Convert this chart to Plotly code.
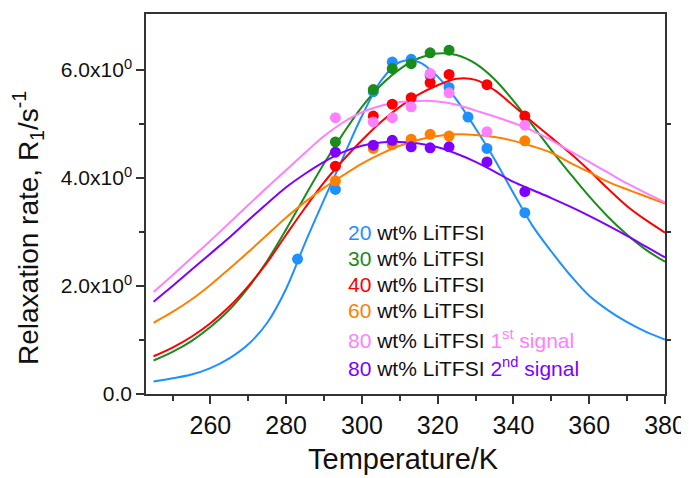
import plotly.graph_objects as go

# ---------------- data ----------------
# measured points: temperature (K) and relaxation rate R1 (s^-1)
t_20 = [283, 293, 303, 308, 313, 318, 323, 328, 333, 343]
r_20 = [2.50, 3.79, 5.60, 6.15, 6.20, 5.90, 5.68, 5.13, 4.55, 3.36]
t_30 = [293, 303, 308, 313, 318, 323]
r_30 = [4.67, 5.64, 6.03, 6.12, 6.32, 6.37]
t_40 = [293, 303, 308, 313, 318, 323, 333, 343]
r_40 = [4.22, 5.15, 5.37, 5.49, 5.77, 5.92, 5.73, 5.15]
t_60 = [293, 303, 308, 313, 318, 323, 343]
r_60 = [3.95, 4.55, 4.62, 4.72, 4.81, 4.78, 4.69]
t_80a = [293, 303, 308, 313, 318, 323, 333, 343]
r_80a = [5.12, 5.04, 5.12, 5.32, 5.94, 5.58, 4.86, 4.98]
t_80b = [293, 303, 308, 313, 318, 323, 333, 343]
r_80b = [4.48, 4.61, 4.70, 4.58, 4.56, 4.58, 4.30, 3.75]

# fitted curves, every 5 K from 245 K to 380 K
curve_t = [245, 250, 255, 260, 265, 270, 275, 280, 285, 290, 295, 300, 305, 310,
           315, 320, 325, 330, 335, 340, 345, 350, 355, 360, 365, 370, 375, 380]
curve_20 = [0.23, 0.29, 0.36, 0.48, 0.66, 0.92, 1.32, 1.95, 2.80, 3.60, 4.38, 5.15, 5.80, 6.15,
            6.15, 5.88, 5.45, 4.92, 4.35, 3.72, 3.12, 2.64, 2.20, 1.82, 1.55, 1.33, 1.15, 1.01]
curve_30 = [0.62, 0.78, 0.98, 1.24, 1.56, 1.97, 2.47, 3.05, 3.67, 4.27, 4.82, 5.32, 5.72, 6.02,
            6.22, 6.31, 6.28, 6.12, 5.83, 5.43, 4.98, 4.52, 4.08, 3.66, 3.28, 2.95, 2.67, 2.45]
curve_40 = [0.70, 0.86, 1.06, 1.31, 1.62, 2.00, 2.44, 2.95, 3.45, 3.92, 4.33, 4.70, 5.04, 5.32,
            5.55, 5.72, 5.84, 5.82, 5.63, 5.34, 5.04, 4.75, 4.46, 4.14, 3.80, 3.48, 3.22, 2.99]
curve_60 = [1.32, 1.52, 1.75, 2.02, 2.32, 2.63, 2.95, 3.27, 3.56, 3.82, 4.05, 4.27, 4.45, 4.60,
            4.71, 4.78, 4.81, 4.80, 4.76, 4.69, 4.59, 4.47, 4.28, 4.11, 3.93, 3.79, 3.66, 3.53]
curve_80a = [1.89, 2.20, 2.52, 2.84, 3.17, 3.50, 3.83, 4.15, 4.47, 4.78, 5.03, 5.22, 5.34, 5.41,
             5.43, 5.42, 5.36, 5.25, 5.14, 5.02, 4.88, 4.70, 4.50, 4.30, 4.10, 3.90, 3.72, 3.55]
curve_80b = [1.71, 2.00, 2.30, 2.60, 2.90, 3.22, 3.53, 3.83, 4.08, 4.30, 4.48, 4.60, 4.66, 4.67,
             4.64, 4.57, 4.45, 4.30, 4.12, 3.93, 3.78, 3.63, 3.47, 3.30, 3.12, 2.93, 2.73, 2.53]

labels = ["20", "30", "40", "60", "80", "80"]
suffix = ["", "", "", "", "1<sup>st</sup> signal", "2<sup>nd</sup> signal"]
colors = ["#1E90FF", "#1A8C1A", "#FF0000", "#FF8000", "#FF80FF", "#8000FF"]

y_tick_vals = [0, 2, 4, 6]
y_tick_text = ["0.0", "2.0x10<sup>0</sup>", "4.0x10<sup>0</sup>", "6.0x10<sup>0</sup>"]

# ---------------- figure ----------------
pts = [(t_20, r_20), (t_30, r_30), (t_40, r_40), (t_60, r_60), (t_80a, r_80a), (t_80b, r_80b)]
crv = [curve_20, curve_30, curve_40, curve_60, curve_80a, curve_80b]

fig = go.Figure()
for cy, c in zip(crv, colors):
    fig.add_trace(go.Scatter(x=curve_t, y=cy, mode="lines",
                             line=dict(color=c, width=2, shape="spline", smoothing=1.0),
                             showlegend=False, hoverinfo="skip"))
for (px, py), c in zip(pts, colors):
    fig.add_trace(go.Scatter(x=px, y=py, mode="markers", marker=dict(color=c, size=11),
                             showlegend=False))

# invisible trace so that the right-hand axis (ticks only) is drawn
fig.add_trace(go.Scatter(x=[None], y=[None], yaxis="y2", showlegend=False))

# the page body has an 8 px margin, so the figure is drawn 8 px in from the window corner
OFF = 8
W, H = 689 - OFF, 478 - OFF
L, T = 146 - OFF, 14 - OFF          # plot area left / top in window pixels: 146, 14
R = W - L - 519                      # plot width 519 px (to x = 665)
B = H - T - 380                      # plot height 380 px (to y = 394)
pw, ph = W - L - R, H - T - B

def px2paper(xp, yp):
    """window pixel -> paper coordinates"""
    return (xp - OFF - L) / pw, (H - B - (yp - OFF)) / ph

font = "Arial, Liberation Sans, sans-serif"
axis_color = "#333333"

fig.update_layout(
    width=W, height=H,
    margin=dict(l=L, r=R, t=T, b=B, pad=0, autoexpand=False),
    paper_bgcolor="white", plot_bgcolor="white",
    font=dict(family=font, color="#111111"),
    xaxis=dict(range=[243, 380], tickmode="linear", tick0=260, dtick=20, automargin=False,
               ticks="outside", ticklen=8, tickwidth=1.5, tickcolor=axis_color,
               showline=True, linecolor=axis_color, linewidth=1.5, mirror=True,
               showgrid=False, zeroline=False, tickfont=dict(size=25),
               minor=dict(tick0=250, dtick=20, ticks="outside", ticklen=5, tickwidth=1.5,
                          tickcolor=axis_color)),
    yaxis=dict(range=[0, 7.04], tickmode="array", tickvals=y_tick_vals, ticktext=y_tick_text,
               automargin=False,
               ticks="outside", ticklen=8, tickwidth=1.5, tickcolor=axis_color,
               showline=True, linecolor=axis_color, linewidth=1.5, mirror=True,
               showgrid=False, zeroline=False, tickfont=dict(size=21),
               minor=dict(tickmode="array", tickvals=[1, 3, 5], ticks="outside", ticklen=5,
                          tickwidth=1.5, tickcolor=axis_color)),
    yaxis2=dict(range=[0, 7.04], overlaying="y", side="right", tickmode="array", tickvals=[1, 3, 5],
                automargin=False,
                ticks="outside", ticklen=5, tickwidth=1.5, tickcolor=axis_color,
                showticklabels=False, showgrid=False, zeroline=False, showline=False),
)

ann = []
row_y = [232, 258, 284, 310, 339, 367]
for lab, suf, c, yp in zip(labels, suffix, colors, row_y):
    txt = f"<span style='color:{c}'>{lab}</span> wt% LiTFSI"
    if suf:
        txt += f" <span style='color:{c}'>{suf}</span>"
    xpp, ypp = px2paper(346, yp)
    ann.append(dict(x=xpp, y=ypp, xref="paper", yref="paper", text=txt, showarrow=False,
                    xanchor="left", yanchor="middle", font=dict(size=21, family=font, color="#111111")))

xt, yt = px2paper(403, 459)
ann.append(dict(x=xt, y=yt, xref="paper", yref="paper", text="Temperature/K", showarrow=False,
                xanchor="center", yanchor="middle", font=dict(size=29, family=font, color="#111111")))
xt, yt = px2paper(28, 228)
ann.append(dict(x=xt, y=yt, xref="paper", yref="paper", text="Relaxation rate, R<sub>1</sub>/s<sup>-1</sup>",
                showarrow=False, textangle=-90, xanchor="center", yanchor="middle",
                font=dict(size=28, family=font, color="#111111")))
fig.update_layout(annotations=ann)

fig.write_html("out.html")
